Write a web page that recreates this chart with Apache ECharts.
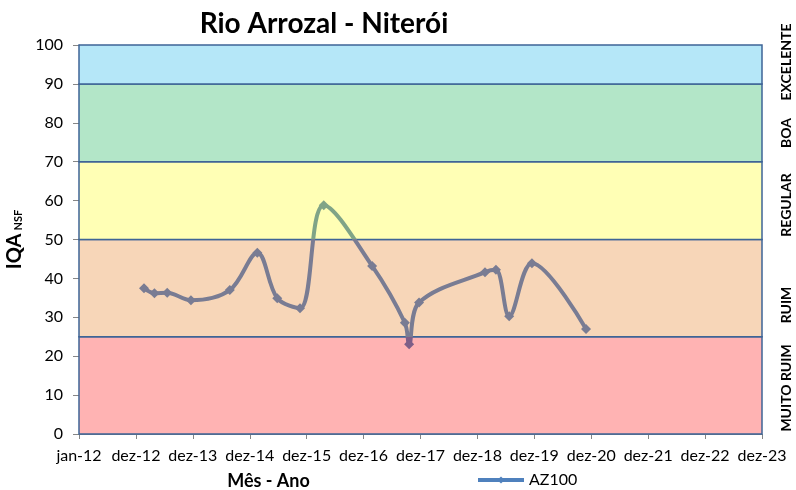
<!DOCTYPE html>
<html>
<head>
<meta charset="utf-8">
<script src="https://cdn.jsdelivr.net/npm/echarts@6/dist/echarts.min.js"></script>
<style>
  html, body { margin: 0; padding: 0; background: #fff; }
  #chart { width: 796px; height: 490px; }
</style>
</head>
<body>
<div id="chart"></div>
<script>
// meses contados a partir de jan-12
const xLabels = ['jan-12', 'dez-12', 'dez-13', 'dez-14', 'dez-15', 'dez-16', 'dez-17',
  'dez-18', 'dez-19', 'dez-20', 'dez-21', 'dez-22', 'dez-23']
const months = [13.7, 15.9, 18.6, 23.6, 31.8, 37.6, 41.8, 46.6, 51.6, 61.8, 68.7, 69.6, 71.7,
  85.6, 87.9, 90.7, 95.5, 106.9]
const iqa = [37.5, 36.2, 36.3, 34.4, 37.0, 46.6, 34.9, 32.3, 58.8, 43.2, 28.6, 23.1, 33.8,
  41.6, 42.2, 30.3, 43.9, 27.0]
const bands = [
  { from: 0, to: 25, color: '#FFB3B3' },
  { from: 25, to: 50, color: '#F7D6B8' },
  { from: 50, to: 70, color: '#FFFFB5' },
  { from: 70, to: 90, color: '#B3E6C8' },
  { from: 90, to: 100, color: '#B5E7F8' }
]
const classes = [
  { text: 'EXCELENTE', y: 62 },
  { text: 'BOA', y: 133 },
  { text: 'REGULAR', y: 205 },
  { text: 'RUIM', y: 305 },
  { text: 'MUITO RUIM', y: 388 }
]

const font = 'Lato, sans-serif'
const chart = echarts.init(document.getElementById('chart'))

chart.setOption({
  textStyle: { fontFamily: font },
  title: {
    text: 'Rio Arrozal - Niterói',
    left: 319,
    textAlign: 'center',
    top: 5,
    textStyle: { fontSize: 28, fontWeight: 'bold', color: '#000', fontFamily: font }
  },
  legend: {
    left: 471,
    top: 467,
    itemWidth: 46,
    itemHeight: 9,
    itemGap: 6,
    textStyle: { fontSize: 16, color: '#000', fontFamily: font },
    data: [{ name: 'AZ100', itemStyle: { color: '#4F81BD' }, lineStyle: { color: '#4F81BD', width: 4 } }]
  },
  grid: { left: 79, right: 34, top: 45, bottom: 56, outerBoundsMode: 'none' },
  xAxis: {
    type: 'value',
    min: 0,
    max: 144,
    interval: 12,
    name: 'Mês - Ano',
    nameLocation: 'middle',
    nameGap: 38,
    nameTextStyle: { fontSize: 18, fontWeight: 'bold', color: '#000', fontFamily: font, padding: [0, 0, 0, -304] },
    axisLine: { lineStyle: { color: '#868686', width: 1 } },
    axisTick: { length: 5, lineStyle: { color: '#868686' } },
    axisLabel: {
      fontSize: 16, color: '#000', margin: 14,
      formatter: v => xLabels[Math.round(v / 12)]
    },
    splitLine: { show: false }
  },
  yAxis: {
    type: 'value',
    min: 0,
    max: 100,
    interval: 10,
    name: '{a|IQA} {b|NSF}',
    nameLocation: 'middle',
    nameRotate: 90,
    nameGap: 51,
    nameTextStyle: {
      rich: {
        a: { fontSize: 20, fontWeight: 'bold', color: '#000', fontFamily: font },
        b: { fontSize: 11, fontWeight: 'bold', color: '#000', fontFamily: font, padding: [9, 0, 0, 0] }
      }
    },
    axisLine: { show: true, lineStyle: { color: '#868686', width: 1 } },
    axisTick: { show: true, length: 6, lineStyle: { color: '#868686' } },
    axisLabel: { fontSize: 16, color: '#000', margin: 16 },
    splitLine: { show: false }
  },
  visualMap: {
    show: false,
    type: 'piecewise',
    dimension: 1,
    seriesIndex: 0,
    pieces: [
      { lt: 25, color: '#7E5F88' },
      { gte: 25, lt: 50, color: '#797C93' },
      { gte: 50, color: '#80A487' }
    ]
  },
  series: [{
    name: 'AZ100',
    type: 'line',
    smooth: 0.35,
    symbol: 'diamond',
    symbolSize: 10,
    lineStyle: { width: 4 },
    data: months.map((m, i) => [m, iqa[i]]),
    markArea: {
      silent: true,
      data: bands.map(b => [
        { yAxis: b.from, itemStyle: { color: b.color, borderColor: '#3E6496', borderWidth: 1.5 } },
        { yAxis: b.to }
      ])
    },
    z: 3
  }],
  graphic: classes.map(c => ({
    type: 'text',
    x: 786,
    y: c.y,
    rotation: Math.PI / 2,
    style: {
      text: c.text,
      font: 'bold 14px Lato, sans-serif',
      fill: '#000',
      align: 'center',
      verticalAlign: 'middle'
    }
  }))
})
</script>
</body>
</html>
